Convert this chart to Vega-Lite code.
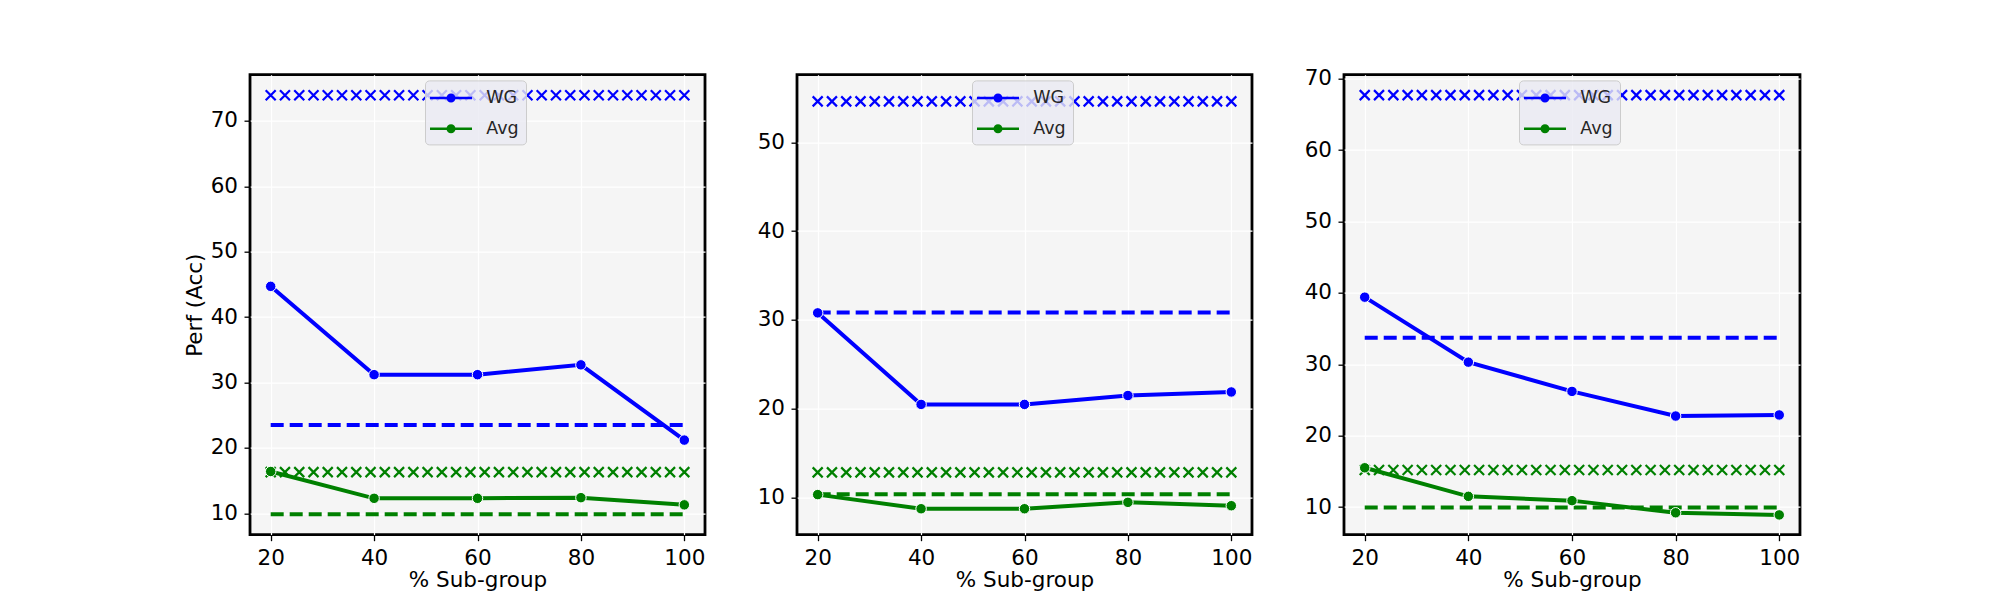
{
  "$schema": "https://vega.github.io/schema/vega-lite/v6.json",
  "background": "#ffffff",
  "padding": {"left": 182, "top": 65.7, "right": 5, "bottom": 5},
  "bounds": "flush",
  "spacing": 92,
  "datasets": {
    "trend": [
      {"panel": 1, "metric": "WG", "pct": 20, "acc": 44.7},
      {"panel": 1, "metric": "WG", "pct": 40, "acc": 31.2},
      {"panel": 1, "metric": "WG", "pct": 60, "acc": 31.2},
      {"panel": 1, "metric": "WG", "pct": 80, "acc": 32.7},
      {"panel": 1, "metric": "WG", "pct": 100, "acc": 21.2},
      {"panel": 1, "metric": "Avg", "pct": 20, "acc": 16.4},
      {"panel": 1, "metric": "Avg", "pct": 40, "acc": 12.3},
      {"panel": 1, "metric": "Avg", "pct": 60, "acc": 12.3},
      {"panel": 1, "metric": "Avg", "pct": 80, "acc": 12.4},
      {"panel": 1, "metric": "Avg", "pct": 100, "acc": 11.3},
      {"panel": 2, "metric": "WG", "pct": 20, "acc": 30.8},
      {"panel": 2, "metric": "WG", "pct": 40, "acc": 20.5},
      {"panel": 2, "metric": "WG", "pct": 60, "acc": 20.5},
      {"panel": 2, "metric": "WG", "pct": 80, "acc": 21.5},
      {"panel": 2, "metric": "WG", "pct": 100, "acc": 21.9},
      {"panel": 2, "metric": "Avg", "pct": 20, "acc": 10.35},
      {"panel": 2, "metric": "Avg", "pct": 40, "acc": 8.76},
      {"panel": 2, "metric": "Avg", "pct": 60, "acc": 8.76},
      {"panel": 2, "metric": "Avg", "pct": 80, "acc": 9.48},
      {"panel": 2, "metric": "Avg", "pct": 100, "acc": 9.1},
      {"panel": 3, "metric": "WG", "pct": 20, "acc": 39.4},
      {"panel": 3, "metric": "WG", "pct": 40, "acc": 30.3},
      {"panel": 3, "metric": "WG", "pct": 60, "acc": 26.2},
      {"panel": 3, "metric": "WG", "pct": 80, "acc": 22.75},
      {"panel": 3, "metric": "WG", "pct": 100, "acc": 22.9},
      {"panel": 3, "metric": "Avg", "pct": 20, "acc": 15.5},
      {"panel": 3, "metric": "Avg", "pct": 40, "acc": 11.5},
      {"panel": 3, "metric": "Avg", "pct": 60, "acc": 10.9},
      {"panel": 3, "metric": "Avg", "pct": 80, "acc": 9.2},
      {"panel": 3, "metric": "Avg", "pct": 100, "acc": 8.9}
    ],
    "dashed": [
      {"panel": 1, "metric": "WG", "pct": 20, "acc": 23.5},
      {"panel": 1, "metric": "WG", "pct": 100, "acc": 23.5},
      {"panel": 1, "metric": "Avg", "pct": 20, "acc": 9.85},
      {"panel": 1, "metric": "Avg", "pct": 100, "acc": 9.85},
      {"panel": 2, "metric": "WG", "pct": 20, "acc": 30.85},
      {"panel": 2, "metric": "WG", "pct": 100, "acc": 30.85},
      {"panel": 2, "metric": "Avg", "pct": 20, "acc": 10.4},
      {"panel": 2, "metric": "Avg", "pct": 100, "acc": 10.4},
      {"panel": 3, "metric": "WG", "pct": 20, "acc": 33.7},
      {"panel": 3, "metric": "WG", "pct": 100, "acc": 33.7},
      {"panel": 3, "metric": "Avg", "pct": 20, "acc": 9.95},
      {"panel": 3, "metric": "Avg", "pct": 100, "acc": 9.95}
    ],
    "crosses": [
      {"panel":1,"metric":"WG","pct":20,"acc":73.9},{"panel":1,"metric":"WG","pct":22.76,"acc":73.9},{"panel":1,"metric":"WG","pct":25.52,"acc":73.9},{"panel":1,"metric":"WG","pct":28.28,"acc":73.9},{"panel":1,"metric":"WG","pct":31.03,"acc":73.9},{"panel":1,"metric":"WG","pct":33.79,"acc":73.9},{"panel":1,"metric":"WG","pct":36.55,"acc":73.9},{"panel":1,"metric":"WG","pct":39.31,"acc":73.9},{"panel":1,"metric":"WG","pct":42.07,"acc":73.9},{"panel":1,"metric":"WG","pct":44.83,"acc":73.9},{"panel":1,"metric":"WG","pct":47.59,"acc":73.9},{"panel":1,"metric":"WG","pct":50.34,"acc":73.9},{"panel":1,"metric":"WG","pct":53.1,"acc":73.9},{"panel":1,"metric":"WG","pct":55.86,"acc":73.9},{"panel":1,"metric":"WG","pct":58.62,"acc":73.9},{"panel":1,"metric":"WG","pct":61.38,"acc":73.9},{"panel":1,"metric":"WG","pct":64.14,"acc":73.9},{"panel":1,"metric":"WG","pct":66.9,"acc":73.9},{"panel":1,"metric":"WG","pct":69.66,"acc":73.9},{"panel":1,"metric":"WG","pct":72.41,"acc":73.9},{"panel":1,"metric":"WG","pct":75.17,"acc":73.9},{"panel":1,"metric":"WG","pct":77.93,"acc":73.9},{"panel":1,"metric":"WG","pct":80.69,"acc":73.9},{"panel":1,"metric":"WG","pct":83.45,"acc":73.9},{"panel":1,"metric":"WG","pct":86.21,"acc":73.9},{"panel":1,"metric":"WG","pct":88.97,"acc":73.9},{"panel":1,"metric":"WG","pct":91.72,"acc":73.9},{"panel":1,"metric":"WG","pct":94.48,"acc":73.9},{"panel":1,"metric":"WG","pct":97.24,"acc":73.9},{"panel":1,"metric":"WG","pct":100,"acc":73.9},
      {"panel":1,"metric":"Avg","pct":20,"acc":16.3},{"panel":1,"metric":"Avg","pct":22.76,"acc":16.3},{"panel":1,"metric":"Avg","pct":25.52,"acc":16.3},{"panel":1,"metric":"Avg","pct":28.28,"acc":16.3},{"panel":1,"metric":"Avg","pct":31.03,"acc":16.3},{"panel":1,"metric":"Avg","pct":33.79,"acc":16.3},{"panel":1,"metric":"Avg","pct":36.55,"acc":16.3},{"panel":1,"metric":"Avg","pct":39.31,"acc":16.3},{"panel":1,"metric":"Avg","pct":42.07,"acc":16.3},{"panel":1,"metric":"Avg","pct":44.83,"acc":16.3},{"panel":1,"metric":"Avg","pct":47.59,"acc":16.3},{"panel":1,"metric":"Avg","pct":50.34,"acc":16.3},{"panel":1,"metric":"Avg","pct":53.1,"acc":16.3},{"panel":1,"metric":"Avg","pct":55.86,"acc":16.3},{"panel":1,"metric":"Avg","pct":58.62,"acc":16.3},{"panel":1,"metric":"Avg","pct":61.38,"acc":16.3},{"panel":1,"metric":"Avg","pct":64.14,"acc":16.3},{"panel":1,"metric":"Avg","pct":66.9,"acc":16.3},{"panel":1,"metric":"Avg","pct":69.66,"acc":16.3},{"panel":1,"metric":"Avg","pct":72.41,"acc":16.3},{"panel":1,"metric":"Avg","pct":75.17,"acc":16.3},{"panel":1,"metric":"Avg","pct":77.93,"acc":16.3},{"panel":1,"metric":"Avg","pct":80.69,"acc":16.3},{"panel":1,"metric":"Avg","pct":83.45,"acc":16.3},{"panel":1,"metric":"Avg","pct":86.21,"acc":16.3},{"panel":1,"metric":"Avg","pct":88.97,"acc":16.3},{"panel":1,"metric":"Avg","pct":91.72,"acc":16.3},{"panel":1,"metric":"Avg","pct":94.48,"acc":16.3},{"panel":1,"metric":"Avg","pct":97.24,"acc":16.3},{"panel":1,"metric":"Avg","pct":100,"acc":16.3},
      {"panel":2,"metric":"WG","pct":20,"acc":54.6},{"panel":2,"metric":"WG","pct":22.76,"acc":54.6},{"panel":2,"metric":"WG","pct":25.52,"acc":54.6},{"panel":2,"metric":"WG","pct":28.28,"acc":54.6},{"panel":2,"metric":"WG","pct":31.03,"acc":54.6},{"panel":2,"metric":"WG","pct":33.79,"acc":54.6},{"panel":2,"metric":"WG","pct":36.55,"acc":54.6},{"panel":2,"metric":"WG","pct":39.31,"acc":54.6},{"panel":2,"metric":"WG","pct":42.07,"acc":54.6},{"panel":2,"metric":"WG","pct":44.83,"acc":54.6},{"panel":2,"metric":"WG","pct":47.59,"acc":54.6},{"panel":2,"metric":"WG","pct":50.34,"acc":54.6},{"panel":2,"metric":"WG","pct":53.1,"acc":54.6},{"panel":2,"metric":"WG","pct":55.86,"acc":54.6},{"panel":2,"metric":"WG","pct":58.62,"acc":54.6},{"panel":2,"metric":"WG","pct":61.38,"acc":54.6},{"panel":2,"metric":"WG","pct":64.14,"acc":54.6},{"panel":2,"metric":"WG","pct":66.9,"acc":54.6},{"panel":2,"metric":"WG","pct":69.66,"acc":54.6},{"panel":2,"metric":"WG","pct":72.41,"acc":54.6},{"panel":2,"metric":"WG","pct":75.17,"acc":54.6},{"panel":2,"metric":"WG","pct":77.93,"acc":54.6},{"panel":2,"metric":"WG","pct":80.69,"acc":54.6},{"panel":2,"metric":"WG","pct":83.45,"acc":54.6},{"panel":2,"metric":"WG","pct":86.21,"acc":54.6},{"panel":2,"metric":"WG","pct":88.97,"acc":54.6},{"panel":2,"metric":"WG","pct":91.72,"acc":54.6},{"panel":2,"metric":"WG","pct":94.48,"acc":54.6},{"panel":2,"metric":"WG","pct":97.24,"acc":54.6},{"panel":2,"metric":"WG","pct":100,"acc":54.6},
      {"panel":2,"metric":"Avg","pct":20,"acc":12.85},{"panel":2,"metric":"Avg","pct":22.76,"acc":12.85},{"panel":2,"metric":"Avg","pct":25.52,"acc":12.85},{"panel":2,"metric":"Avg","pct":28.28,"acc":12.85},{"panel":2,"metric":"Avg","pct":31.03,"acc":12.85},{"panel":2,"metric":"Avg","pct":33.79,"acc":12.85},{"panel":2,"metric":"Avg","pct":36.55,"acc":12.85},{"panel":2,"metric":"Avg","pct":39.31,"acc":12.85},{"panel":2,"metric":"Avg","pct":42.07,"acc":12.85},{"panel":2,"metric":"Avg","pct":44.83,"acc":12.85},{"panel":2,"metric":"Avg","pct":47.59,"acc":12.85},{"panel":2,"metric":"Avg","pct":50.34,"acc":12.85},{"panel":2,"metric":"Avg","pct":53.1,"acc":12.85},{"panel":2,"metric":"Avg","pct":55.86,"acc":12.85},{"panel":2,"metric":"Avg","pct":58.62,"acc":12.85},{"panel":2,"metric":"Avg","pct":61.38,"acc":12.85},{"panel":2,"metric":"Avg","pct":64.14,"acc":12.85},{"panel":2,"metric":"Avg","pct":66.9,"acc":12.85},{"panel":2,"metric":"Avg","pct":69.66,"acc":12.85},{"panel":2,"metric":"Avg","pct":72.41,"acc":12.85},{"panel":2,"metric":"Avg","pct":75.17,"acc":12.85},{"panel":2,"metric":"Avg","pct":77.93,"acc":12.85},{"panel":2,"metric":"Avg","pct":80.69,"acc":12.85},{"panel":2,"metric":"Avg","pct":83.45,"acc":12.85},{"panel":2,"metric":"Avg","pct":86.21,"acc":12.85},{"panel":2,"metric":"Avg","pct":88.97,"acc":12.85},{"panel":2,"metric":"Avg","pct":91.72,"acc":12.85},{"panel":2,"metric":"Avg","pct":94.48,"acc":12.85},{"panel":2,"metric":"Avg","pct":97.24,"acc":12.85},{"panel":2,"metric":"Avg","pct":100,"acc":12.85},
      {"panel":3,"metric":"WG","pct":20,"acc":67.7},{"panel":3,"metric":"WG","pct":22.76,"acc":67.7},{"panel":3,"metric":"WG","pct":25.52,"acc":67.7},{"panel":3,"metric":"WG","pct":28.28,"acc":67.7},{"panel":3,"metric":"WG","pct":31.03,"acc":67.7},{"panel":3,"metric":"WG","pct":33.79,"acc":67.7},{"panel":3,"metric":"WG","pct":36.55,"acc":67.7},{"panel":3,"metric":"WG","pct":39.31,"acc":67.7},{"panel":3,"metric":"WG","pct":42.07,"acc":67.7},{"panel":3,"metric":"WG","pct":44.83,"acc":67.7},{"panel":3,"metric":"WG","pct":47.59,"acc":67.7},{"panel":3,"metric":"WG","pct":50.34,"acc":67.7},{"panel":3,"metric":"WG","pct":53.1,"acc":67.7},{"panel":3,"metric":"WG","pct":55.86,"acc":67.7},{"panel":3,"metric":"WG","pct":58.62,"acc":67.7},{"panel":3,"metric":"WG","pct":61.38,"acc":67.7},{"panel":3,"metric":"WG","pct":64.14,"acc":67.7},{"panel":3,"metric":"WG","pct":66.9,"acc":67.7},{"panel":3,"metric":"WG","pct":69.66,"acc":67.7},{"panel":3,"metric":"WG","pct":72.41,"acc":67.7},{"panel":3,"metric":"WG","pct":75.17,"acc":67.7},{"panel":3,"metric":"WG","pct":77.93,"acc":67.7},{"panel":3,"metric":"WG","pct":80.69,"acc":67.7},{"panel":3,"metric":"WG","pct":83.45,"acc":67.7},{"panel":3,"metric":"WG","pct":86.21,"acc":67.7},{"panel":3,"metric":"WG","pct":88.97,"acc":67.7},{"panel":3,"metric":"WG","pct":91.72,"acc":67.7},{"panel":3,"metric":"WG","pct":94.48,"acc":67.7},{"panel":3,"metric":"WG","pct":97.24,"acc":67.7},{"panel":3,"metric":"WG","pct":100,"acc":67.7},
      {"panel":3,"metric":"Avg","pct":20,"acc":15.2},{"panel":3,"metric":"Avg","pct":22.76,"acc":15.2},{"panel":3,"metric":"Avg","pct":25.52,"acc":15.2},{"panel":3,"metric":"Avg","pct":28.28,"acc":15.2},{"panel":3,"metric":"Avg","pct":31.03,"acc":15.2},{"panel":3,"metric":"Avg","pct":33.79,"acc":15.2},{"panel":3,"metric":"Avg","pct":36.55,"acc":15.2},{"panel":3,"metric":"Avg","pct":39.31,"acc":15.2},{"panel":3,"metric":"Avg","pct":42.07,"acc":15.2},{"panel":3,"metric":"Avg","pct":44.83,"acc":15.2},{"panel":3,"metric":"Avg","pct":47.59,"acc":15.2},{"panel":3,"metric":"Avg","pct":50.34,"acc":15.2},{"panel":3,"metric":"Avg","pct":53.1,"acc":15.2},{"panel":3,"metric":"Avg","pct":55.86,"acc":15.2},{"panel":3,"metric":"Avg","pct":58.62,"acc":15.2},{"panel":3,"metric":"Avg","pct":61.38,"acc":15.2},{"panel":3,"metric":"Avg","pct":64.14,"acc":15.2},{"panel":3,"metric":"Avg","pct":66.9,"acc":15.2},{"panel":3,"metric":"Avg","pct":69.66,"acc":15.2},{"panel":3,"metric":"Avg","pct":72.41,"acc":15.2},{"panel":3,"metric":"Avg","pct":75.17,"acc":15.2},{"panel":3,"metric":"Avg","pct":77.93,"acc":15.2},{"panel":3,"metric":"Avg","pct":80.69,"acc":15.2},{"panel":3,"metric":"Avg","pct":83.45,"acc":15.2},{"panel":3,"metric":"Avg","pct":86.21,"acc":15.2},{"panel":3,"metric":"Avg","pct":88.97,"acc":15.2},{"panel":3,"metric":"Avg","pct":91.72,"acc":15.2},{"panel":3,"metric":"Avg","pct":94.48,"acc":15.2},{"panel":3,"metric":"Avg","pct":97.24,"acc":15.2},{"panel":3,"metric":"Avg","pct":100,"acc":15.2}
    ]
  },
  "resolve": {"scale": {"x": "independent", "y": "independent", "color": "independent"}, "legend": {"color": "independent"}, "axis": {"x": "independent", "y": "independent"}},
  "hconcat": [
    {
      "width": 455, "height": 460,
      "layer": [
        {"data": {"name": "dashed"}, "transform": [{"filter": "datum.panel == 1"}],
         "mark": {"type": "line", "strokeWidth": 4, "strokeDash": [13, 6], "strokeCap": "butt"},
         "encoding": {
           "x": {"field": "pct", "type": "quantitative", "scale": {"domain": [16, 104], "nice": false, "zero": false}, "axis": {"values": [20, 40, 60, 80, 100], "title": "% Sub-group"}},
           "y": {"field": "acc", "type": "quantitative", "scale": {"domain": [6.74, 77.05], "nice": false, "zero": false}, "axis": {"values": [10, 20, 30, 40, 50, 60, 70], "title": "Perf (Acc)"}},
           "color": {"field": "metric", "type": "nominal", "scale": {"domain": ["WG", "Avg"], "range": ["#0000ff", "#008000"]},
             "legend": {"orient": "none", "legendX": 175, "legendY": 5.7, "direction": "vertical", "title": null, "symbolType": "M-1.19,-0.12H2.81V0.12H-1.19Z M1.24,0A0.43,0.43,0,1,1,0.38,0A0.43,0.43,0,1,1,1.24,0Z", "symbolSize": 441, "symbolStrokeWidth": 0, "labelOffset": 33.3, "padding": 7, "rowPadding": 11.8, "labelFontSize": 17.5, "labelFont": "DejaVu Sans", "labelColor": "#262626", "fillColor": "rgba(234,234,242,0.8)", "strokeColor": "#cccccc", "cornerRadius": 4,
               "encode": {"symbols": {"update": {"fill": {"signal": "datum.value === 'WG' ? '#0000ff' : '#008000'"}, "stroke": {"value": "transparent"}, "opacity": {"value": 1}, "strokeDash": {"value": []}}}}}}
         }},
        {"data": {"name": "crosses"}, "transform": [{"filter": "datum.panel == 1"}],
         "mark": {"type": "point", "shape": "M-1,-1L1,1M-1,1L1,-1", "filled": false, "size": 100, "strokeWidth": 2.2, "opacity": 1},
         "encoding": {"x": {"field": "pct", "type": "quantitative"}, "y": {"field": "acc", "type": "quantitative"}, "color": {"field": "metric", "type": "nominal"}}},
        {"data": {"name": "trend"}, "transform": [{"filter": "datum.panel == 1"}],
         "mark": {"type": "line", "strokeWidth": 4},
         "encoding": {"x": {"field": "pct", "type": "quantitative"}, "y": {"field": "acc", "type": "quantitative"}, "color": {"field": "metric", "type": "nominal"}}},
        {"data": {"name": "trend"}, "transform": [{"filter": "datum.panel == 1"}],
         "mark": {"type": "point", "shape": "circle", "filled": true, "size": 110, "opacity": 1, "stroke": "#ffffff", "strokeWidth": 1},
         "encoding": {"x": {"field": "pct", "type": "quantitative"}, "y": {"field": "acc", "type": "quantitative"}, "color": {"field": "metric", "type": "nominal"}}}
      ]
    },
    {
      "width": 455, "height": 460,
      "layer": [
        {"data": {"name": "dashed"}, "transform": [{"filter": "datum.panel == 2"}],
         "mark": {"type": "line", "strokeWidth": 4, "strokeDash": [13, 6], "strokeCap": "butt"},
         "encoding": {
           "x": {"field": "pct", "type": "quantitative", "scale": {"domain": [16, 104], "nice": false, "zero": false}, "axis": {"values": [20, 40, 60, 80, 100], "title": "% Sub-group"}},
           "y": {"field": "acc", "type": "quantitative", "scale": {"domain": [5.84, 57.6], "nice": false, "zero": false}, "axis": {"values": [10, 20, 30, 40, 50], "title": null}},
           "color": {"field": "metric", "type": "nominal", "scale": {"domain": ["WG", "Avg"], "range": ["#0000ff", "#008000"]},
             "legend": {"orient": "none", "legendX": 175, "legendY": 5.7, "direction": "vertical", "title": null, "symbolType": "M-1.19,-0.12H2.81V0.12H-1.19Z M1.24,0A0.43,0.43,0,1,1,0.38,0A0.43,0.43,0,1,1,1.24,0Z", "symbolSize": 441, "symbolStrokeWidth": 0, "labelOffset": 33.3, "padding": 7, "rowPadding": 11.8, "labelFontSize": 17.5, "labelFont": "DejaVu Sans", "labelColor": "#262626", "fillColor": "rgba(234,234,242,0.8)", "strokeColor": "#cccccc", "cornerRadius": 4,
               "encode": {"symbols": {"update": {"fill": {"signal": "datum.value === 'WG' ? '#0000ff' : '#008000'"}, "stroke": {"value": "transparent"}, "opacity": {"value": 1}, "strokeDash": {"value": []}}}}}}
         }},
        {"data": {"name": "crosses"}, "transform": [{"filter": "datum.panel == 2"}],
         "mark": {"type": "point", "shape": "M-1,-1L1,1M-1,1L1,-1", "filled": false, "size": 100, "strokeWidth": 2.2, "opacity": 1},
         "encoding": {"x": {"field": "pct", "type": "quantitative"}, "y": {"field": "acc", "type": "quantitative"}, "color": {"field": "metric", "type": "nominal"}}},
        {"data": {"name": "trend"}, "transform": [{"filter": "datum.panel == 2"}],
         "mark": {"type": "line", "strokeWidth": 4},
         "encoding": {"x": {"field": "pct", "type": "quantitative"}, "y": {"field": "acc", "type": "quantitative"}, "color": {"field": "metric", "type": "nominal"}}},
        {"data": {"name": "trend"}, "transform": [{"filter": "datum.panel == 2"}],
         "mark": {"type": "point", "shape": "circle", "filled": true, "size": 110, "opacity": 1, "stroke": "#ffffff", "strokeWidth": 1},
         "encoding": {"x": {"field": "pct", "type": "quantitative"}, "y": {"field": "acc", "type": "quantitative"}, "color": {"field": "metric", "type": "nominal"}}}
      ]
    },
    {
      "width": 456, "height": 460,
      "layer": [
        {"data": {"name": "dashed"}, "transform": [{"filter": "datum.panel == 3"}],
         "mark": {"type": "line", "strokeWidth": 4, "strokeDash": [13, 6], "strokeCap": "butt"},
         "encoding": {
           "x": {"field": "pct", "type": "quantitative", "scale": {"domain": [16, 104], "nice": false, "zero": false}, "axis": {"values": [20, 40, 60, 80, 100], "title": "% Sub-group"}},
           "y": {"field": "acc", "type": "quantitative", "scale": {"domain": [6.13, 70.56], "nice": false, "zero": false}, "axis": {"values": [10, 20, 30, 40, 50, 60, 70], "title": null}},
           "color": {"field": "metric", "type": "nominal", "scale": {"domain": ["WG", "Avg"], "range": ["#0000ff", "#008000"]},
             "legend": {"orient": "none", "legendX": 175, "legendY": 5.7, "direction": "vertical", "title": null, "symbolType": "M-1.19,-0.12H2.81V0.12H-1.19Z M1.24,0A0.43,0.43,0,1,1,0.38,0A0.43,0.43,0,1,1,1.24,0Z", "symbolSize": 441, "symbolStrokeWidth": 0, "labelOffset": 33.3, "padding": 7, "rowPadding": 11.8, "labelFontSize": 17.5, "labelFont": "DejaVu Sans", "labelColor": "#262626", "fillColor": "rgba(234,234,242,0.8)", "strokeColor": "#cccccc", "cornerRadius": 4,
               "encode": {"symbols": {"update": {"fill": {"signal": "datum.value === 'WG' ? '#0000ff' : '#008000'"}, "stroke": {"value": "transparent"}, "opacity": {"value": 1}, "strokeDash": {"value": []}}}}}}
         }},
        {"data": {"name": "crosses"}, "transform": [{"filter": "datum.panel == 3"}],
         "mark": {"type": "point", "shape": "M-1,-1L1,1M-1,1L1,-1", "filled": false, "size": 100, "strokeWidth": 2.2, "opacity": 1},
         "encoding": {"x": {"field": "pct", "type": "quantitative"}, "y": {"field": "acc", "type": "quantitative"}, "color": {"field": "metric", "type": "nominal"}}},
        {"data": {"name": "trend"}, "transform": [{"filter": "datum.panel == 3"}],
         "mark": {"type": "line", "strokeWidth": 4},
         "encoding": {"x": {"field": "pct", "type": "quantitative"}, "y": {"field": "acc", "type": "quantitative"}, "color": {"field": "metric", "type": "nominal"}}},
        {"data": {"name": "trend"}, "transform": [{"filter": "datum.panel == 3"}],
         "mark": {"type": "point", "shape": "circle", "filled": true, "size": 110, "opacity": 1, "stroke": "#ffffff", "strokeWidth": 1},
         "encoding": {"x": {"field": "pct", "type": "quantitative"}, "y": {"field": "acc", "type": "quantitative"}, "color": {"field": "metric", "type": "nominal"}}}
      ]
    }
  ],
  "config": {
    "font": "DejaVu Sans",
    "view": {"stroke": "#000000", "strokeWidth": 2.8, "fill": "#f5f5f5"},
    "axis": {"grid": true, "gridColor": "#ffffff", "gridWidth": 1.2, "domain": false, "tickColor": "#000000", "tickSize": 6, "tickWidth": 1.3, "labelFont": "DejaVu Sans", "labelFontSize": 21.5, "labelColor": "#000000", "labelFlush": false, "titleFont": "DejaVu Sans", "titleFontSize": 21.5, "titleFontWeight": "normal", "titleColor": "#000000"},
    "axisY": {"titlePadding": 4, "labelPadding": 6.5},
    "axisX": {"titlePadding": 0, "labelPadding": 7}
  }
}
